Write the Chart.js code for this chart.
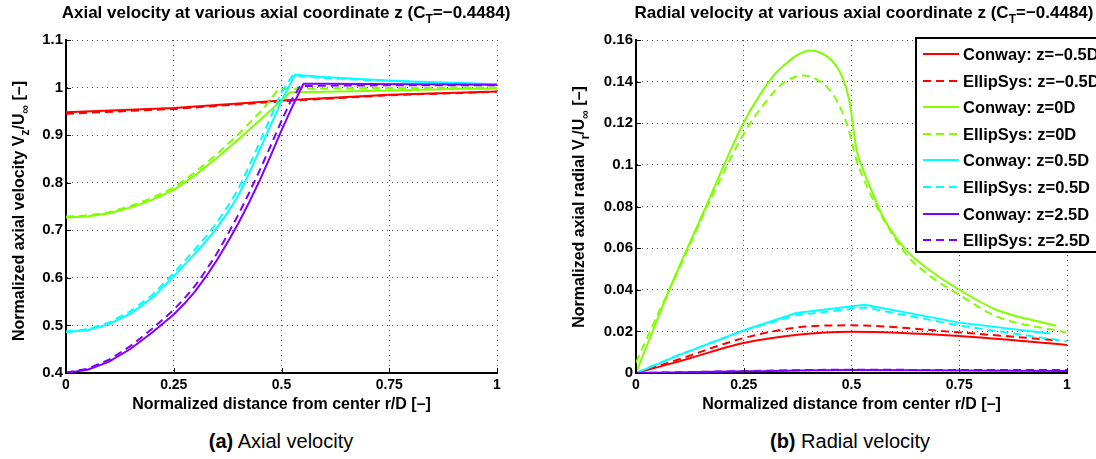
<!DOCTYPE html>
<html>
<head>
<meta charset="utf-8">
<script src="https://cdn.jsdelivr.net/npm/chart.js@4.4.1/dist/chart.umd.min.js"></script>
<style>
  body { margin: 0; background: #fff; width: 1096px; height: 459px; overflow: hidden; position: relative;
         font-family: "Liberation Sans", Arial, Helvetica, sans-serif; }
  canvas { position: absolute; top: 0; }
  #chart-axial { left: 0; }
  #chart-radial { left: 560px; }
  .cap { position: absolute; top: 431px; font-size: 20px; line-height: 20px; color: #000;
         transform: translateX(-50%); white-space: nowrap; }
</style>
</head>
<body>
<canvas id="chart-axial" width="560" height="420"></canvas>
<canvas id="chart-radial" width="536" height="420"></canvas>
<div class="cap" style="left:281px"><b>(a)</b> Axial velocity</div>
<div class="cap" style="left:850px"><b>(b)</b> Radial velocity</div>
<script>
// axial & radial velocity profiles, Conway vs EllipSys, C_T = -0.4484
const FONT = '"Liberation Sans", Arial, Helvetica, sans-serif';

const labels = ["Conway: z=−0.5D", "EllipSys: z=−0.5D", "Conway: z=0D", "EllipSys: z=0D",
                "Conway: z=0.5D", "EllipSys: z=0.5D", "Conway: z=2.5D", "EllipSys: z=2.5D"];
const colors = ["#ff0000", "#ff0000", "#80ff00", "#80ff00", "#00ffff", "#00ffff", "#8000ff", "#8000ff"];

const xTicks = [0, 0.25, 0.5, 0.75, 1];
const axYTicks = [0.4, 0.5, 0.6, 0.7, 0.8, 0.9, 1, 1.1];
const radYTicks = [0, 0.02, 0.04, 0.06, 0.08, 0.1, 0.12, 0.14, 0.16];

// (a) axial velocity Vz/Uinf
const axR_m05 = [0, 0.25, 0.5, 0.75, 1];
const axConway_m05 = [0.948, 0.957, 0.973, 0.985, 0.992];
const axEllip_m05 = [0.945, 0.955, 0.971, 0.984, 0.991];

const axR_0c = [0, 0.05, 0.1, 0.15, 0.2, 0.25, 0.3, 0.35, 0.4, 0.45, 0.5, 0.52, 0.6, 0.7, 0.8, 0.9, 1];
const axConway_0 = [0.727, 0.729, 0.736, 0.748, 0.764, 0.785, 0.816, 0.852, 0.891, 0.932, 0.973, 0.99, 0.991, 0.993, 0.995, 0.997, 0.998];
const axR_0e = [0, 0.05, 0.1, 0.15, 0.2, 0.25, 0.3, 0.35, 0.4, 0.45, 0.473, 0.492, 0.6, 0.7, 0.8, 0.9, 1];
const axEllip_0 = [0.729, 0.731, 0.738, 0.751, 0.768, 0.79, 0.822, 0.86, 0.902, 0.948, 0.972, 0.997, 0.998, 0.999, 0.999, 1.0, 1.0];

const axR_05c = [0, 0.05, 0.1, 0.15, 0.2, 0.25, 0.3, 0.325, 0.35, 0.375, 0.4, 0.425, 0.45, 0.475, 0.5, 0.531, 0.6, 0.7, 0.8, 0.9, 1];
const axConway_05 = [0.486, 0.49, 0.503, 0.525, 0.558, 0.603, 0.652, 0.677, 0.705, 0.737, 0.773, 0.82, 0.87, 0.921, 0.972, 1.027, 1.022, 1.017, 1.013, 1.01, 1.007];
const axR_05e = [0, 0.05, 0.1, 0.15, 0.2, 0.25, 0.3, 0.325, 0.35, 0.375, 0.4, 0.425, 0.45, 0.475, 0.5, 0.525, 0.6, 0.7, 0.8, 0.9, 1];
const axEllip_05 = [0.487, 0.492, 0.506, 0.53, 0.564, 0.61, 0.661, 0.687, 0.716, 0.75, 0.787, 0.835, 0.886, 0.938, 0.99, 1.025, 1.02, 1.016, 1.012, 1.009, 1.006];

const axR_25c = [0, 0.05, 0.1, 0.15, 0.2, 0.25, 0.275, 0.3, 0.325, 0.35, 0.375, 0.4, 0.425, 0.45, 0.475, 0.5, 0.525, 0.551, 0.6, 0.8, 1];
const axConway_25 = [0.4, 0.407, 0.424, 0.451, 0.485, 0.523, 0.546, 0.572, 0.603, 0.637, 0.675, 0.715, 0.759, 0.806, 0.857, 0.91, 0.96, 1.008, 1.008, 1.007, 1.006];
const axR_25e = [0, 0.05, 0.1, 0.15, 0.2, 0.25, 0.275, 0.3, 0.325, 0.35, 0.375, 0.4, 0.425, 0.45, 0.475, 0.5, 0.52, 0.543, 0.6, 0.8, 1];
const axEllip_25 = [0.401, 0.409, 0.428, 0.457, 0.493, 0.533, 0.557, 0.584, 0.616, 0.651, 0.691, 0.733, 0.779, 0.827, 0.878, 0.93, 0.969, 1.003, 1.004, 1.005, 1.005];

// (b) radial velocity Vr/Uinf
const radR_m05c = [0, 0.1, 0.25, 0.375, 0.5, 0.75, 1];
const radConway_m05 = [0, 0.0056, 0.0144, 0.0184, 0.0198, 0.0178, 0.0135];
const radR_m05e = [0, 0.1, 0.25, 0.4, 0.5, 0.75, 0.97];
const radEllip_m05 = [0, 0.0066, 0.0168, 0.0224, 0.0229, 0.0195, 0.0158];

const radR_0c = [0, 0.05, 0.087, 0.156, 0.2, 0.249, 0.287, 0.326, 0.35, 0.372, 0.403, 0.427, 0.45, 0.477, 0.496, 0.504, 0.512, 0.527, 0.55, 0.573, 0.627, 0.68, 0.75, 0.836, 0.975];
const radConway_0 = [0, 0.026, 0.0448, 0.077, 0.098, 0.12, 0.1335, 0.1445, 0.149, 0.1525, 0.155, 0.154, 0.151, 0.143, 0.13, 0.118, 0.107, 0.0976, 0.086, 0.075, 0.059, 0.0496, 0.04, 0.0304, 0.0227];
const radR_0e = [0, 0.05, 0.1, 0.156, 0.2, 0.25, 0.3, 0.34, 0.388, 0.42, 0.457, 0.475, 0.492, 0.512, 0.535, 0.558, 0.627, 0.68, 0.75, 0.836, 0.998];
const radEllip_0 = [0.005, 0.028, 0.05, 0.076, 0.095, 0.115, 0.13, 0.139, 0.143, 0.141, 0.134, 0.127, 0.118, 0.102, 0.09, 0.08, 0.057, 0.047, 0.0376, 0.0272, 0.0195];

const radR_05c = [0, 0.1, 0.249, 0.372, 0.531, 0.75, 0.96];
const radConway_05 = [0, 0.0086, 0.0205, 0.0288, 0.0328, 0.0242, 0.019];
const radR_05e = [0, 0.1, 0.249, 0.372, 0.531, 0.75, 1];
const radEllip_05 = [0, 0.0088, 0.0203, 0.0278, 0.0315, 0.0228, 0.0152];

const radR_25 = [0, 0.25, 0.5, 0.75, 1];
const radConway_25 = [0, 0.0008, 0.0014, 0.0012, 0.001];
const radEllip_25 = [0, 0.0009, 0.0016, 0.0014, 0.0014];

const mkSet = (i, xs, ys, smooth) => ({
  label: labels[i],
  data: xs.map((x, k) => ({ x, y: ys[k] })),
  borderColor: colors[i],
  borderWidth: 2,
  borderDash: i % 2 ? [8, 5] : [],
  pointRadius: 0,
  tension: 0,
  cubicInterpolationMode: smooth ? "monotone" : "default",
  order: 7 - i,
});

// text with subscripts: segs = [[text, isSub], ...]
function richText(ctx, segs, x, y, size) {
  const big = `bold ${size}px ${FONT}`;
  const small = `bold ${Math.round(size * 0.72)}px ${FONT}`;
  let w = 0;
  for (const [t, sub] of segs) { ctx.font = sub ? small : big; w += ctx.measureText(t).width; }
  let cx = x - w / 2;
  ctx.textAlign = "left";
  ctx.textBaseline = "alphabetic";
  for (const [t, sub] of segs) {
    ctx.font = sub ? small : big;
    ctx.fillText(t, cx, sub ? y + size * 0.32 : y);
    cx += ctx.measureText(t).width;
  }
}

const mkPanel = (cfg) => ({
  id: "panel",
  afterDraw(chart) {
    const { ctx, chartArea: a, scales: { x, y } } = chart;
    ctx.save();
    ctx.fillStyle = "#000";
    richText(ctx, cfg.title, cfg.titleX, 18, 17);
    ctx.translate(cfg.yTitleX, cfg.yTitleY);
    ctx.rotate(-Math.PI / 2);
    richText(ctx, cfg.yTitle, 0, 0, 16);
    ctx.restore();
    // inward tick marks like matlab
    ctx.save();
    ctx.strokeStyle = "#000";
    ctx.lineWidth = 1;
    ctx.beginPath();
    x.ticks.forEach(t => {
      const px = Math.round(x.getPixelForValue(t.value)) + 0.5;
      ctx.moveTo(px, a.bottom); ctx.lineTo(px, a.bottom - 5);
    });
    y.ticks.forEach(t => {
      const py = Math.round(y.getPixelForValue(t.value)) + 0.5;
      ctx.moveTo(a.left, py); ctx.lineTo(a.left + 5, py);
    });
    ctx.stroke();
    ctx.restore();
  },
});

const legendBox = {
  id: "legendBox",
  afterDraw(chart) {
    const { ctx } = chart;
    ctx.save();
    ctx.fillStyle = "#fff";
    ctx.fillRect(356, 38, 300, 214);
    ctx.strokeStyle = "#000";
    ctx.lineWidth = 2;
    ctx.strokeRect(356, 38, 300, 214);
    chart.data.datasets.forEach((ds, i) => {
      const yy = Math.round(54 + i * 26.6);
      ctx.strokeStyle = ds.borderColor;
      ctx.lineWidth = 2;
      ctx.setLineDash(ds.borderDash);
      ctx.beginPath(); ctx.moveTo(363, yy); ctx.lineTo(399, yy); ctx.stroke();
      ctx.setLineDash([]);
      ctx.fillStyle = "#000";
      ctx.font = `bold 16.5px ${FONT}`;
      ctx.textBaseline = "middle";
      ctx.textAlign = "left";
      ctx.fillText(ds.label, 403, yy + 1);
    });
    ctx.restore();
  },
};

const mkOpts = (yMin, yMax, yTicks, yWidth, padRight) => ({
  responsive: false,
  animation: false,
  devicePixelRatio: 1,
  layout: { padding: { top: 40, right: padRight, bottom: 0, left: 0 } },
  plugins: { legend: { display: false }, tooltip: { enabled: false } },
  scales: {
    x: {
      type: "linear", min: 0, max: 1,
      afterBuildTicks: s => { s.ticks = xTicks.map(v => ({ value: v })); },
      afterFit: s => { s.height = 47; },
      ticks: { font: { family: FONT, size: 14, weight: "bold" }, color: "#000", padding: 4,
               maxRotation: 0, autoSkip: false, callback: v => String(v) },
      grid: { color: "rgba(0,0,0,0.7)", lineWidth: 1, drawTicks: false },
      border: { display: true, color: "#000", width: 2, dash: [1, 4] },
      title: { display: true, text: "Normalized distance from center r/D [–]", color: "#000",
               font: { family: FONT, size: 16, weight: "bold" }, padding: { top: 0, bottom: 6 } },
    },
    y: {
      type: "linear", min: yMin, max: yMax,
      afterBuildTicks: s => { s.ticks = yTicks.map(v => ({ value: v })); },
      afterFit: s => { s.width = yWidth; },
      ticks: { font: { family: FONT, size: 15, weight: "bold" }, color: "#000", padding: 3,
               autoSkip: false, callback: v => String(v) },
      grid: { color: "rgba(0,0,0,0.7)", lineWidth: 1, drawTicks: false },
      border: { display: true, color: "#000", width: 2, dash: [1, 4] },
    },
  },
});

new Chart(document.getElementById("chart-axial"), {
  type: "line",
  data: {
    datasets: [
      mkSet(0, axR_m05, axConway_m05), mkSet(1, axR_m05, axEllip_m05),
      mkSet(2, axR_0c, axConway_0), mkSet(3, axR_0e, axEllip_0),
      mkSet(4, axR_05c, axConway_05), mkSet(5, axR_05e, axEllip_05),
      mkSet(6, axR_25c, axConway_25), mkSet(7, axR_25e, axEllip_25),
    ],
  },
  options: mkOpts(0.4, 1.1, axYTicks, 66, 63),
  plugins: [mkPanel({
    title: [["Axial velocity at various axial coordinate z (C", 0], ["T", 1], ["=−0.4484)", 0]],
    titleX: 286,
    yTitle: [["Normalized axial velocity V", 0], ["z", 1], ["/U", 0], ["∞", 1], [" [–]", 0]],
    yTitleX: 23.5, yTitleY: 211,
  })],
});

new Chart(document.getElementById("chart-radial"), {
  type: "line",
  data: {
    datasets: [
      mkSet(0, radR_m05c, radConway_m05, true), mkSet(1, radR_m05e, radEllip_m05, true),
      mkSet(2, radR_0c, radConway_0, true), mkSet(3, radR_0e, radEllip_0, true),
      mkSet(4, radR_05c, radConway_05), mkSet(5, radR_05e, radEllip_05),
      mkSet(6, radR_25, radConway_25, true), mkSet(7, radR_25, radEllip_25, true),
    ],
  },
  options: mkOpts(0, 0.16, radYTicks, 76, 29),
  plugins: [mkPanel({
    title: [["Radial velocity at various axial coordinate z (C", 0], ["T", 1], ["=−0.4484)", 0]],
    titleX: 304,
    yTitle: [["Normalized axial radial V", 0], ["r", 1], ["/U", 0], ["∞", 1], [" [–]", 0]],
    yTitleX: 24, yTitleY: 207,
  }), legendBox],
});
</script>
</body>
</html>
